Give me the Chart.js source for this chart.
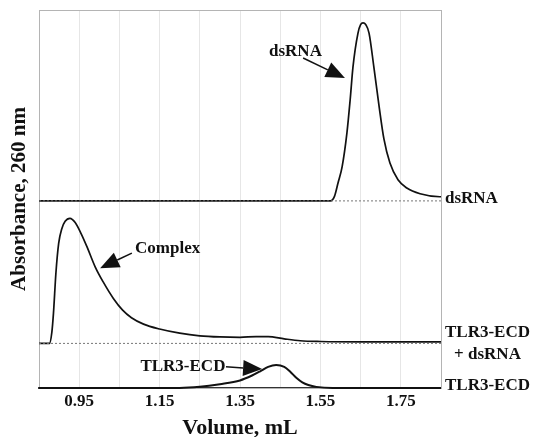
<!DOCTYPE html>
<html>
<head>
<meta charset="utf-8">
<script src="https://cdn.jsdelivr.net/npm/chart.js@4/dist/chart.umd.min.js"></script>
<style>
  html, body { margin: 0; padding: 0; background: #fff; }
  #wrap { width: 535px; height: 437px; }
</style>
</head>
<body>
<div id="wrap"><canvas id="chromChart" width="535" height="437"></canvas></div>
<script>
// elution volumes (mL) and absorbance (arbitrary units)
const dsrnaVol = [0.85, 1.575, 1.585, 1.594, 1.604, 1.616, 1.624, 1.631, 1.6435, 1.65, 1.656, 1.663, 1.671, 1.683, 1.696, 1.708, 1.723, 1.743, 1.765, 1.798, 1.847, 1.85];
const dsrnaAbs = [0, 0, 1.2, 4.8, 9, 18, 26.7, 35.4, 44.4, 46.6, 47.1, 46.6, 44.4, 35.4, 25, 16.4, 10, 5.6, 3.4, 1.9, 1.1, 1.1];

const complexVol = [0.85, 0.876, 0.882, 0.886, 0.892, 0.899, 0.907, 0.915, 0.927, 0.94, 0.955, 0.97, 0.99, 1.01, 1.035, 1.058, 1.08, 1.11, 1.15, 1.20, 1.25, 1.30, 1.35, 1.39, 1.42, 1.46, 1.50, 1.55, 1.65, 1.85];
const complexAbs = [0, 0, 3, 8, 18.5, 26.5, 30.4, 32.3, 33.1, 32, 29, 25.4, 20.2, 16.2, 11.9, 8.8, 6.8, 5.1, 3.8, 2.7, 2.0, 1.7, 1.6, 1.8, 1.8, 1.2, 0.7, 0.5, 0.4, 0.4];

const tlr3Vol = [0.85, 1.20, 1.25, 1.30, 1.35, 1.38, 1.40, 1.42, 1.44, 1.46, 1.475, 1.49, 1.505, 1.52, 1.54, 1.58, 1.85];
const tlr3Abs = [0, 0, 0.3, 1.0, 2.0, 3.3, 4.4, 5.6, 6.1, 5.6, 4.3, 2.7, 1.5, 0.8, 0.3, 0, 0];

// vertical stacking of the three runs
const dsrnaOffset = 49.5;
const complexOffset = 11.8;
const tlr3Offset = 0;

// axis ticks
const gridVolumes = [0.85, 0.95, 1.05, 1.15, 1.25, 1.35, 1.45, 1.55, 1.65, 1.75, 1.85];
const tickLabels = ['0.95', '1.15', '1.35', '1.55', '1.75'];

// labels to the right of each trace
const traceNames = [['dsRNA'], ['TLR3-ECD', '+ dsRNA'], ['TLR3-ECD']];
const traceOffsets = [dsrnaOffset, complexOffset, tlr3Offset];

// peak callouts: text position, arrow start, arrow tip
const calloutTexts = ['dsRNA', 'Complex', 'TLR3-ECD'];
const calloutAt = [[1.488, 88.9], [1.17, 36.8], [1.208, 5.6]];
const arrowFrom = [[1.507, 87.3], [1.081, 35.7], [1.315, 5.6]];
const arrowTo = [[1.611, 82.0], [1.002, 31.7], [1.405, 5.0]];

const serif = "'Liberation Serif', 'Times New Roman', serif";
const ink = '#111';

function trace(vols, abs, offset) {
    return vols.map((v, i) => ({ x: v, y: abs[i] + offset }));
}

function baseline(offset) {
    return [{ x: gridVolumes[0], y: offset }, { x: gridVolumes[gridVolumes.length - 1], y: offset }];
}

const lineStyle = {
    borderColor: ink,
    borderWidth: 1.7,
    pointRadius: 0,
    cubicInterpolationMode: 'monotone',
    clip: false
};

const dottedStyle = {
    borderColor: '#777',
    borderWidth: 1,
    borderDash: [2, 2],
    pointRadius: 0,
    clip: false
};

const framePlugin = {
    id: 'frame',
    beforeDatasetsDraw(chart) {
        const { ctx, chartArea: a } = chart;
        ctx.save();
        ctx.strokeStyle = '#b4b4b4';
        ctx.lineWidth = 1;
        ctx.strokeRect(a.left + 0.5, a.top + 0.5, a.right - a.left, a.bottom - a.top);
        ctx.restore();
    }
};

const labelsPlugin = {
    id: 'traceLabels',
    afterDatasetsDraw(chart) {
        const { ctx, chartArea: a } = chart;
        const xs = chart.scales.x, ys = chart.scales.y;
        ctx.save();
        ctx.fillStyle = ink;
        ctx.strokeStyle = ink;
        ctx.font = `bold 17px ${serif}`;
        ctx.textBaseline = 'middle';

        // names at the right edge
        traceNames.forEach((lines, i) => {
            const yb = ys.getPixelForValue(traceOffsets[i]);
            const w = Math.max(...lines.map(t => ctx.measureText(t).width));
            const cx = a.right + 4 + w / 2;
            ctx.textAlign = 'center';
            if (lines.length === 1) {
                ctx.fillText(lines[0], cx, yb - 2);
            } else {
                ctx.fillText(lines[0], cx, yb - 11);
                ctx.fillText(lines[1], cx, yb + 11);
            }
        });

        // callouts with arrows
        calloutTexts.forEach((t, i) => {
            ctx.textAlign = 'center';
            ctx.fillText(t, xs.getPixelForValue(calloutAt[i][0]), ys.getPixelForValue(calloutAt[i][1]));
            const x0 = xs.getPixelForValue(arrowFrom[i][0]), y0 = ys.getPixelForValue(arrowFrom[i][1]);
            const x1 = xs.getPixelForValue(arrowTo[i][0]), y1 = ys.getPixelForValue(arrowTo[i][1]);
            const ang = Math.atan2(y1 - y0, x1 - x0);
            const len = 19, half = 8;
            const bx = x1 - len * Math.cos(ang), by = y1 - len * Math.sin(ang);
            ctx.lineWidth = 1.5;
            ctx.beginPath();
            ctx.moveTo(x0, y0);
            ctx.lineTo(bx, by);
            ctx.stroke();
            ctx.beginPath();
            ctx.moveTo(x1, y1);
            ctx.lineTo(bx + half * Math.sin(ang), by - half * Math.cos(ang));
            ctx.lineTo(bx - half * Math.sin(ang), by + half * Math.cos(ang));
            ctx.closePath();
            ctx.fill();
        });
        ctx.restore();
    }
};

new Chart(document.getElementById('chromChart'), {
    type: 'line',
    data: {
        datasets: [
            { data: baseline(dsrnaOffset), ...dottedStyle },
            { data: baseline(complexOffset), ...dottedStyle },
            { data: trace(dsrnaVol, dsrnaAbs, dsrnaOffset), ...lineStyle },
            { data: trace(complexVol, complexAbs, complexOffset), ...lineStyle },
            { data: trace(tlr3Vol, tlr3Abs, tlr3Offset), ...lineStyle, borderWidth: 2 }
        ]
    },
    options: {
        responsive: false,
        animation: false,
        layout: { padding: { left: 0, right: 94, top: 10, bottom: 0 } },
        plugins: {
            legend: { display: false },
            tooltip: { enabled: false }
        },
        scales: {
            x: {
                type: 'linear',
                min: gridVolumes[0],
                max: gridVolumes[gridVolumes.length - 1],
                afterBuildTicks: (scale) => { scale.ticks = gridVolumes.map(v => ({ value: v })); },
                afterFit: (scale) => { scale.height = 49; },
                grid: { color: '#e6e6e6', drawTicks: false },
                border: { color: '#333', width: 2 },
                ticks: {
                    autoSkip: false,
                    maxRotation: 0,
                    padding: 3,
                    color: ink,
                    font: { family: serif, size: 17, weight: 'bold' },
                    callback: (v) => tickLabels.includes(Number(v).toFixed(2)) ? Number(v).toFixed(2) : ''
                },
                title: {
                    display: true,
                    text: 'Volume, mL',
                    color: ink,
                    font: { family: serif, size: 22, weight: 'bold', lineHeight: '18px' },
                    padding: { top: 0, bottom: 0 }
                }
            },
            y: {
                min: 0,
                max: 100,
                afterFit: (scale) => { scale.width = 39; },
                grid: { display: false },
                border: { color: '#b4b4b4' },
                ticks: { display: false },
                title: {
                    display: true,
                    text: 'Absorbance, 260 nm',
                    color: ink,
                    font: { family: serif, size: 21, weight: 'bold', lineHeight: '24px' },
                    padding: { top: 8, bottom: 0 }
                }
            }
        }
    },
    plugins: [framePlugin, labelsPlugin]
});
</script>
</body>
</html>
